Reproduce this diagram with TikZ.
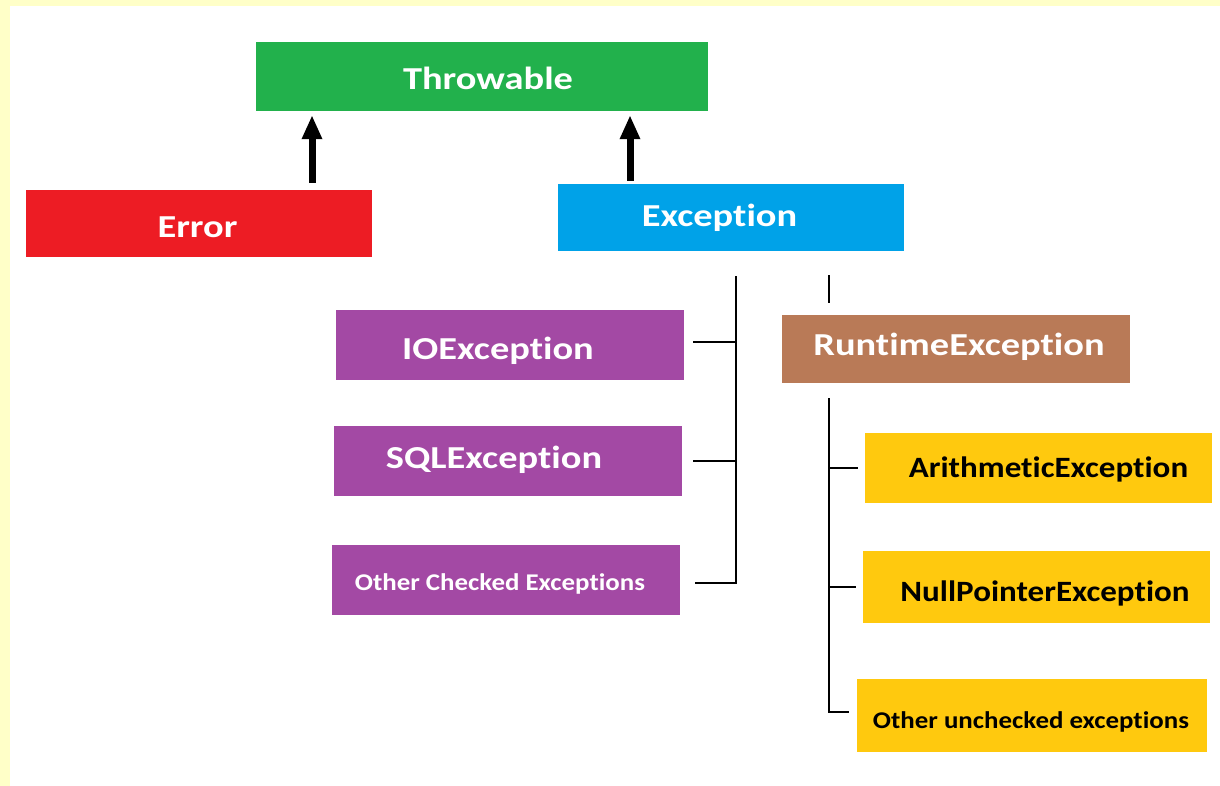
\documentclass[tikz,border=0pt]{standalone}
\usepackage{fontspec}
\setmainfont[Ligatures=NoCommon]{Carlito}
\newfontfamily\widefont[FakeStretch=1.2, Ligatures=NoCommon]{Carlito}
\newfontfamily\midfont[FakeStretch=1.12, Ligatures=NoCommon]{Carlito}
\usetikzlibrary{arrows.meta}
\definecolor{bgyellow}{RGB}{255,255,200}
\definecolor{tgreen}{RGB}{34,177,76}
\definecolor{tred}{RGB}{237,28,36}
\definecolor{tblue}{RGB}{0,162,232}
\definecolor{tpurple}{RGB}{163,73,164}
\definecolor{tbrown}{RGB}{185,122,87}
\definecolor{tyellow}{RGB}{255,201,14}
% text placed at (dx, baseline below centre)
\newcommand\bt[3]{\raisebox{-#2}[0pt][0pt]{\makebox[0pt]{\hspace*{#1}\hspace*{#1}#3}}}
\tikzset{
  box/.style={rectangle, inner sep=0pt, text=white, font=\widefont\bfseries\fontsize{32}{38}\selectfont},
  ybox/.style={box, fill=tyellow, text=black, font=\midfont\bfseries\fontsize{29.5}{34}\selectfont},
  smalltext/.style={font=\midfont\bfseries\fontsize{24}{30}\selectfont},
  uparrow/.style={line width=7pt, -{Triangle[length=24pt,width=19pt]}, shorten >=4pt},
  bus/.style={line width=1.8pt, black}
}
\begin{document}
\begin{tikzpicture}[x=1pt,y=-1pt]
\useasboundingbox (0,0) rectangle (1220,786);
\fill[bgyellow] (0,0) rectangle (1220,786);
\fill[white] (10,6) rectangle (1220,786);

\node[box, fill=tgreen, minimum width=452pt, minimum height=69pt] (thr) at (482,76.5) {\bt{6pt}{12.8pt}{Throwable}};
\node[box, fill=tred, minimum width=346pt, minimum height=67pt] (err) at (199,223.5) {\bt{-1.5pt}{14.5pt}{Error}};
\node[box, fill=tblue, minimum width=346pt, minimum height=67pt] (exc) at (731,217.5) {\bt{-11.5pt}{9.5pt}{Exception}};

\node[box, fill=tpurple, minimum width=348pt, minimum height=70pt] (io) at (510,345) {\bt{-12pt}{14.5pt}{IOException}};
\node[box, fill=tpurple, minimum width=348pt, minimum height=70pt] (sql) at (508,461) {\bt{-14pt}{7pt}{SQLException}};
\node[box, smalltext, fill=tpurple, minimum width=348pt, minimum height=70pt] (occ) at (506,580) {\bt{-6pt}{10.7pt}{Other Checked Exceptions}};

\node[box, fill=tbrown, minimum width=348pt, minimum height=68pt] (rt) at (956,349) {\bt{3pt}{6.5pt}{RuntimeException}};

\node[ybox, minimum width=347pt, minimum height=70pt] (ar) at (1038.5,468) {\bt{10pt}{9pt}{ArithmeticException}};
\node[ybox, minimum width=347pt, minimum height=72pt] (np) at (1036.5,587) {\bt{8.5pt}{14pt}{NullPointerException}};
\node[ybox, smalltext, minimum width=350pt, minimum height=73pt] (ou) at (1032,715.5) {\bt{-1pt}{12.5pt}{Other unchecked exceptions}};

% inheritance arrows
\draw[uparrow, shorten <=7pt] ([xshift=113pt]err.north) -- ([xshift=113pt]err.north |- thr.south);
\draw[uparrow, shorten <=3pt] ([xshift=-101pt]exc.north) -- ([xshift=-101pt]exc.north |- thr.south);

% checked exceptions bus
\coordinate (cb) at (736,276);
\draw[bus] (cb) |- ([xshift=15pt,yshift=-3pt]occ.east);
\draw[bus] ([xshift=9pt,yshift=3pt]io.east) -- ([yshift=3pt]io.east -| cb);
\draw[bus] ([xshift=11pt]sql.east) -- (sql.east -| cb);

% runtime link
\coordinate (rl) at (829,275);
\coordinate (rl2) at (829,303);
\draw[bus] (rl) -- (rl2);

% unchecked exceptions bus
\coordinate (ub) at (829,398);
\draw[bus] (ub) |- ([xshift=-8pt,yshift=3.5pt]ou.west);
\draw[bus] (ub |- ar.west) -- ([xshift=-7pt]ar.west);
\draw[bus] (ub |- np.west) -- ([xshift=-7pt]np.west);
\end{tikzpicture}
\end{document}
